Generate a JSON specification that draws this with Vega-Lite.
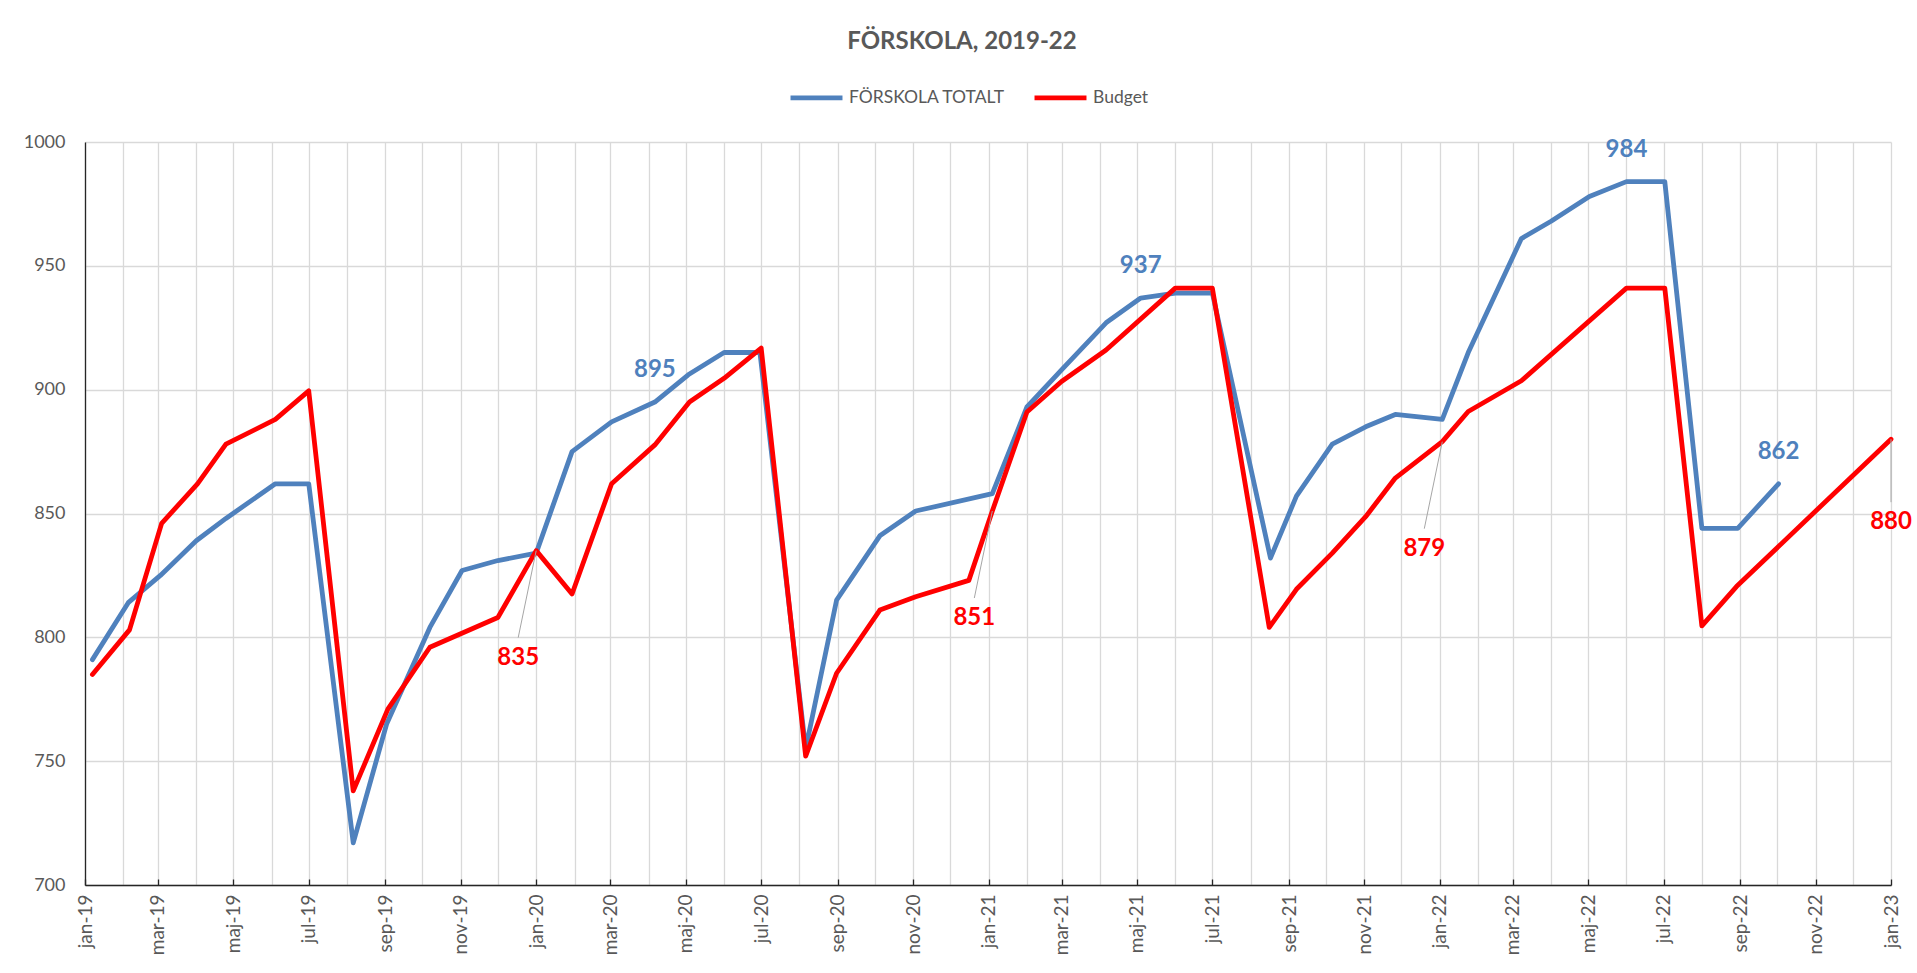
{
  "$schema": "https://vega.github.io/schema/vega-lite/v6.json",
  "width": 1806,
  "height": 743,
  "autosize": {"type": "none"},
  "padding": {"left": 85, "top": 142, "right": 26, "bottom": 88},
  "background": "white",
  "title": {"text": "FÖRSKOLA, 2019-22", "font": "Lato", "fontSize": 24, "fontWeight": "bold", "color": "#595959", "anchor": "middle", "frame": "group", "dx": -26, "offset": -4, "baseline": "alphabetic"},
  "config": {"view": {"stroke": null}, "font": "Lato"},
  "data": {"values": [
    {"date": "2019-01-07", "series": "FÖRSKOLA TOTALT", "value": 791},
    {"date": "2019-02-05", "series": "FÖRSKOLA TOTALT", "value": 814},
    {"date": "2019-03-03", "series": "FÖRSKOLA TOTALT", "value": 825},
    {"date": "2019-04-01", "series": "FÖRSKOLA TOTALT", "value": 839},
    {"date": "2019-04-25", "series": "FÖRSKOLA TOTALT", "value": 848},
    {"date": "2019-06-04", "series": "FÖRSKOLA TOTALT", "value": 862},
    {"date": "2019-07-01", "series": "FÖRSKOLA TOTALT", "value": 862},
    {"date": "2019-08-06", "series": "FÖRSKOLA TOTALT", "value": 717},
    {"date": "2019-09-02", "series": "FÖRSKOLA TOTALT", "value": 765},
    {"date": "2019-10-07", "series": "FÖRSKOLA TOTALT", "value": 804},
    {"date": "2019-11-02", "series": "FÖRSKOLA TOTALT", "value": 827},
    {"date": "2019-12-01", "series": "FÖRSKOLA TOTALT", "value": 831},
    {"date": "2020-01-01", "series": "FÖRSKOLA TOTALT", "value": 834},
    {"date": "2020-01-30", "series": "FÖRSKOLA TOTALT", "value": 875},
    {"date": "2020-03-02", "series": "FÖRSKOLA TOTALT", "value": 887},
    {"date": "2020-04-06", "series": "FÖRSKOLA TOTALT", "value": 895, "label": true},
    {"date": "2020-05-03", "series": "FÖRSKOLA TOTALT", "value": 906},
    {"date": "2020-06-01", "series": "FÖRSKOLA TOTALT", "value": 915},
    {"date": "2020-06-30", "series": "FÖRSKOLA TOTALT", "value": 915},
    {"date": "2020-08-06", "series": "FÖRSKOLA TOTALT", "value": 755},
    {"date": "2020-08-31", "series": "FÖRSKOLA TOTALT", "value": 815},
    {"date": "2020-10-05", "series": "FÖRSKOLA TOTALT", "value": 841},
    {"date": "2020-11-03", "series": "FÖRSKOLA TOTALT", "value": 851},
    {"date": "2021-01-04", "series": "FÖRSKOLA TOTALT", "value": 858},
    {"date": "2021-02-01", "series": "FÖRSKOLA TOTALT", "value": 893},
    {"date": "2021-03-01", "series": "FÖRSKOLA TOTALT", "value": 908},
    {"date": "2021-04-06", "series": "FÖRSKOLA TOTALT", "value": 927},
    {"date": "2021-05-04", "series": "FÖRSKOLA TOTALT", "value": 937, "label": true},
    {"date": "2021-06-01", "series": "FÖRSKOLA TOTALT", "value": 939},
    {"date": "2021-07-01", "series": "FÖRSKOLA TOTALT", "value": 939},
    {"date": "2021-08-17", "series": "FÖRSKOLA TOTALT", "value": 832},
    {"date": "2021-09-07", "series": "FÖRSKOLA TOTALT", "value": 857},
    {"date": "2021-10-06", "series": "FÖRSKOLA TOTALT", "value": 878},
    {"date": "2021-11-02", "series": "FÖRSKOLA TOTALT", "value": 885},
    {"date": "2021-11-26", "series": "FÖRSKOLA TOTALT", "value": 890},
    {"date": "2022-01-03", "series": "FÖRSKOLA TOTALT", "value": 888},
    {"date": "2022-01-24", "series": "FÖRSKOLA TOTALT", "value": 915},
    {"date": "2022-03-08", "series": "FÖRSKOLA TOTALT", "value": 961},
    {"date": "2022-04-01", "series": "FÖRSKOLA TOTALT", "value": 968},
    {"date": "2022-05-02", "series": "FÖRSKOLA TOTALT", "value": 978},
    {"date": "2022-06-01", "series": "FÖRSKOLA TOTALT", "value": 984, "label": true},
    {"date": "2022-07-02", "series": "FÖRSKOLA TOTALT", "value": 984},
    {"date": "2022-08-01", "series": "FÖRSKOLA TOTALT", "value": 844},
    {"date": "2022-08-30", "series": "FÖRSKOLA TOTALT", "value": 844},
    {"date": "2022-10-02", "series": "FÖRSKOLA TOTALT", "value": 862, "label": true},
    {"date": "2019-01-07", "series": "Budget", "value": 785},
    {"date": "2019-02-06", "series": "Budget", "value": 803},
    {"date": "2019-03-04", "series": "Budget", "value": 846},
    {"date": "2019-04-02", "series": "Budget", "value": 862},
    {"date": "2019-04-25", "series": "Budget", "value": 878},
    {"date": "2019-06-04", "series": "Budget", "value": 888},
    {"date": "2019-07-01", "series": "Budget", "value": 899.5},
    {"date": "2019-08-06", "series": "Budget", "value": 738},
    {"date": "2019-09-03", "series": "Budget", "value": 771},
    {"date": "2019-10-07", "series": "Budget", "value": 796},
    {"date": "2019-12-01", "series": "Budget", "value": 808},
    {"date": "2020-01-01", "series": "Budget", "value": 835, "label": true},
    {"date": "2020-01-30", "series": "Budget", "value": 817.5},
    {"date": "2020-03-02", "series": "Budget", "value": 862},
    {"date": "2020-04-06", "series": "Budget", "value": 877.7},
    {"date": "2020-05-04", "series": "Budget", "value": 895},
    {"date": "2020-06-01", "series": "Budget", "value": 904.6},
    {"date": "2020-07-01", "series": "Budget", "value": 916.8},
    {"date": "2020-08-06", "series": "Budget", "value": 752},
    {"date": "2020-08-31", "series": "Budget", "value": 785.5},
    {"date": "2020-10-05", "series": "Budget", "value": 811},
    {"date": "2020-11-03", "series": "Budget", "value": 816.4},
    {"date": "2020-12-16", "series": "Budget", "value": 823},
    {"date": "2021-01-04", "series": "Budget", "value": 851, "label": true},
    {"date": "2021-02-01", "series": "Budget", "value": 891},
    {"date": "2021-03-01", "series": "Budget", "value": 903.3},
    {"date": "2021-04-06", "series": "Budget", "value": 916},
    {"date": "2021-06-01", "series": "Budget", "value": 941},
    {"date": "2021-07-01", "series": "Budget", "value": 941},
    {"date": "2021-08-16", "series": "Budget", "value": 804},
    {"date": "2021-09-07", "series": "Budget", "value": 819.4},
    {"date": "2021-10-06", "series": "Budget", "value": 834},
    {"date": "2021-11-02", "series": "Budget", "value": 848.7},
    {"date": "2021-11-26", "series": "Budget", "value": 864.3},
    {"date": "2022-01-03", "series": "Budget", "value": 879, "label": true},
    {"date": "2022-01-24", "series": "Budget", "value": 891.2},
    {"date": "2022-03-08", "series": "Budget", "value": 903.6},
    {"date": "2022-06-01", "series": "Budget", "value": 941},
    {"date": "2022-07-02", "series": "Budget", "value": 941},
    {"date": "2022-08-01", "series": "Budget", "value": 804.6},
    {"date": "2022-08-29", "series": "Budget", "value": 820.5},
    {"date": "2023-01-01", "series": "Budget", "value": 880, "label": true}
  ]},
  "encoding": {
    "x": {"field": "date", "type": "temporal", "scale": {"type": "utc", "domain": [{"year": 2019, "month": 1, "date": 1, "utc": true}, {"year": 2023, "month": 1, "date": 1, "utc": true}], "nice": false}},
    "y": {"field": "value", "type": "quantitative", "scale": {"domain": [700, 1000], "nice": false, "zero": false},
      "axis": {"title": null, "values": [700, 750, 800, 850, 900, 950, 1000], "format": "d", "grid": true, "gridColor": "#D9D9D9", "gridWidth": 1.3, "ticks": false, "domain": true, "domainColor": "#262626", "domainWidth": 1.3, "labelFont": "Lato", "labelFontSize": 18, "labelColor": "#595959", "labelPadding": 20}}
  },
  "layer": [
    {
      "mark": {"type": "line", "strokeWidth": 4.8, "strokeJoin": "round", "strokeCap": "round"},
      "encoding": {
        "x": {"field": "date", "type": "temporal", "axis": {"orient": "bottom", "title": null, "tickCount": {"interval": "month", "step": 1}, "grid": true, "gridColor": "#D9D9D9", "gridWidth": 1.3, "labels": false, "ticks": false, "domain": false}},
        "color": {"field": "series", "type": "nominal", "sort": null, "scale": {"domain": ["FÖRSKOLA TOTALT", "Budget"], "range": ["#4F81BD", "#FF0000"]},
          "legend": {"orient": "none", "legendX": 703, "legendY": -73, "direction": "horizontal", "title": null, "symbolType": "stroke", "symbolSize": 2700, "symbolStrokeWidth": 4.8, "labelFont": "Lato", "labelFontSize": 17.5, "labelColor": "#595959", "labelOffset": 4, "columnPadding": 18, "labelLimit": 400}}
      }
    },
    {
      "transform": [{"filter": "datum.label && datum.series == 'FÖRSKOLA TOTALT'"}],
      "mark": {"type": "text", "font": "Lato", "fontSize": 24, "fontWeight": "bold", "color": "#4F81BD", "dy": -32, "baseline": "middle", "align": "center"},
      "encoding": {
        "x": {"field": "date", "type": "temporal", "axis": {"orient": "bottom", "title": null, "tickCount": {"interval": "month", "step": 2}, "grid": false, "labelAngle": 270, "labelAlign": "right", "labelBaseline": "middle", "labelFont": "Lato", "labelFontSize": 19, "labelColor": "#595959", "labelPadding": 15, "labelOverlap": false, "labelFlush": false, "labelExpr": "replace(lower(utcFormat(datum.value, '%b-%y')), 'may', 'maj')", "ticks": true, "tickSize": -6, "tickColor": "#262626", "tickWidth": 1.3, "domain": true, "domainColor": "#262626", "domainWidth": 1.3}},
        "text": {"field": "value", "type": "quantitative", "format": "d"}
      }
    },
    {
      "transform": [{"filter": "datum.label && datum.series == 'Budget' && utcyear(datum.date) < 2023"}],
      "mark": {"type": "rule", "color": "#A6A6A6", "strokeWidth": 1, "x2Offset": -18, "y2Offset": 87},
      "encoding": {
        "x": {"field": "date", "type": "temporal", "axis": null},
        "x2": {"field": "date"},
        "y2": {"field": "value"}
      }
    },
    {
      "transform": [{"filter": "datum.label && datum.series == 'Budget' && utcyear(datum.date) < 2023"}],
      "mark": {"type": "text", "font": "Lato", "fontSize": 24, "fontWeight": "bold", "color": "#FF0000", "dx": -18, "dy": 107, "baseline": "middle", "align": "center"},
      "encoding": {
        "x": {"field": "date", "type": "temporal", "axis": null},
        "text": {"field": "value", "type": "quantitative", "format": "d"}
      }
    },
    {
      "transform": [{"filter": "datum.label && datum.series == 'Budget' && utcyear(datum.date) >= 2023"}],
      "mark": {"type": "rule", "color": "#A6A6A6", "strokeWidth": 1, "y2Offset": 63},
      "encoding": {
        "x": {"field": "date", "type": "temporal", "axis": null},
        "x2": {"field": "date"},
        "y2": {"field": "value"}
      }
    },
    {
      "transform": [{"filter": "datum.label && datum.series == 'Budget' && utcyear(datum.date) >= 2023"}],
      "mark": {"type": "text", "font": "Lato", "fontSize": 24, "fontWeight": "bold", "color": "#FF0000", "dy": 83, "baseline": "middle", "align": "center"},
      "encoding": {
        "x": {"field": "date", "type": "temporal", "axis": null},
        "text": {"field": "value", "type": "quantitative", "format": "d"}
      }
    }
  ],
  "resolve": {"axis": {"x": "independent"}}
}
